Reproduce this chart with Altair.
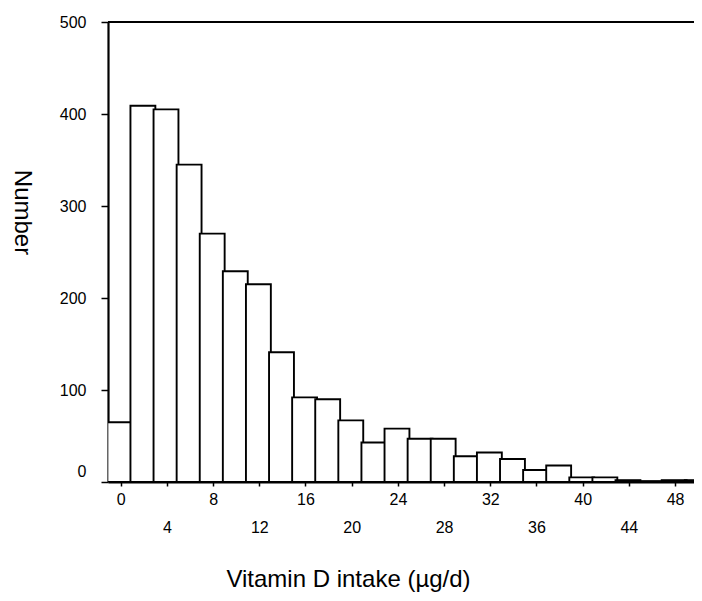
import altair as alt
import pandas as pd

# Histogram bins (centre of each 2-unit bin) and counts
bin_centers = [0, 2, 4, 6, 8, 10, 12, 14, 16, 18, 20, 22, 24, 26, 28, 30,
               32, 34, 36, 38, 40, 42, 44, 46, 48, 50]
counts = [65, 409, 405, 345, 270, 229, 215, 141, 92, 90, 67, 43, 58, 47, 47,
          28, 32, 25, 13, 18, 5, 5, 2, 1, 2, 2]
x_ticks = [0, 4, 8, 12, 16, 20, 24, 28, 32, 36, 40, 44, 48]
y_ticks = [0, 100, 200, 300, 400, 500]
y_top = [500]

df = pd.DataFrame({"center": bin_centers, "count": counts})

FONT = "Liberation Sans"

x_scale = alt.Scale(domain=[-1.1, 49.64], nice=False, zero=False)
y_scale = alt.Scale(domain=[0, 500], nice=False)

bars = alt.Chart(df).transform_calculate(
    lo="datum.center - 1", hi="datum.center + 1"
).mark_bar(
    fill="white", stroke="black", strokeWidth=1.9, xOffset=-1.8, clip=True
).encode(
    x=alt.X(
        "lo:Q",
        scale=x_scale,
        axis=alt.Axis(
            values=x_ticks,
            title="Vitamin D intake (µg/d)",
            grid=False,
            tickSize=4,
            tickWidth=1.5,
            tickColor="black",
            domainColor="black",
            domainWidth=2.2,
            labelFont=FONT,
            labelFontSize=16,
            labelColor="black",
            labelPadding={"condition": {"test": "datum.value % 8 != 0", "value": 33}, "value": 5},
            labelFlush=False,
            labelOverlap=False,
            titleFont=FONT,
            titleFontSize=24,
            titleFontWeight="normal",
            titleColor="black",
            titleX=240,
            titleY=104,
            titleAlign="center",
            titleBaseline="alphabetic",
        ),
    ),
    x2="hi:Q",
    y=alt.Y(
        "count:Q",
        scale=y_scale,
        axis=alt.Axis(
            values=y_ticks,
            title="Number",
            grid=False,
            tickSize=7,
            tickWidth=1.5,
            tickColor="black",
            domainColor="black",
            domainWidth=2.2,
            labelFont=FONT,
            labelFontSize=16,
            labelColor="black",
            labelPadding=15,
            labelOffset={"condition": {"test": "datum.value == 0", "value": -11}, "value": 0},
            labelFlush=False,
            labelOverlap=False,
            titleFont=FONT,
            titleFontSize=24,
            titleFontWeight="normal",
            titleColor="black",
            titleAngle=90,
            titleX=-87,
            titleY=190,
            titleAlign="center",
            titleBaseline="middle",
        ),
    ),
    y2=alt.datum(0),
)

top_line = alt.Chart(pd.DataFrame({"y": y_top})).mark_rule(
    color="black", strokeWidth=2.2
).encode(y=alt.Y("y:Q", scale=y_scale))

chart = alt.layer(bars, top_line).properties(
    width=586,
    height=460,
    autosize=alt.AutoSizeParams(type="none"),
    padding={"left": 100, "top": 14, "right": 0, "bottom": 111},
).configure_view(stroke=None).configure(background="white")

chart.save("out.html", embed_options={"renderer": "svg", "actions": False})
